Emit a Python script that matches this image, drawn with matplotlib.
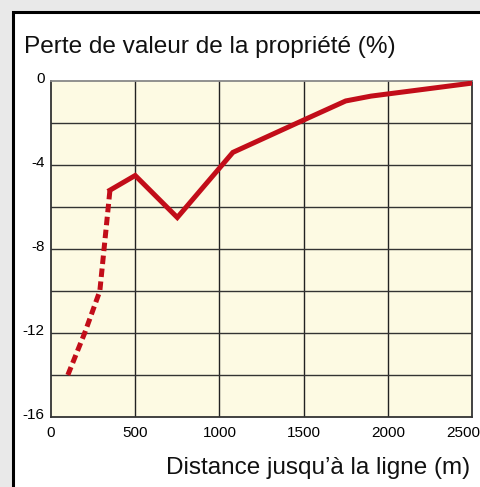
import matplotlib
matplotlib.use("Agg")
import matplotlib.pyplot as plt
from matplotlib.patches import Rectangle
import matplotlib.transforms as mtransforms

# Data
dashed_x = [100, 200, 290, 350]
dashed_y = [-14, -12, -10, -5.2]
solid_x = [350, 500, 750, 1080, 1500, 1750, 1900, 2500]
solid_y = [-5.2, -4.5, -6.5, -3.4, -1.86, -0.95, -0.72, -0.1]
xticks = [0, 500, 1000, 1500, 2000, 2500]
yticks = [0, -4, -8, -12, -16]
title = "Perte de valeur de la propriété (%)"
xlabel = "Distance jusqu’à la ligne (m)"

W, H = 481, 487
plt.rcParams['font.family'] = ['Liberation Sans', 'DejaVu Sans']
fig = plt.figure(figsize=(W / 100, H / 100), dpi=100)
fig.patch.set_facecolor("#e9e9e9")

# white box with black border
box = Rectangle((13 / W, -0.05), 1.1, (H - 12) / H + 0.05, transform=fig.transFigure,
                facecolor="white", edgecolor="black", linewidth=2.2, zorder=-5)
fig.patches.append(box)

ax = fig.add_axes([51 / W, (H - 417) / H, (472 - 51) / W, (417 - 81) / H])
ax.set_zorder(2)
ax.set_facecolor("#FDFAE3")
ax.set_xlim(0, 2500)
ax.set_ylim(-16, 0)

for gx in range(500, 2500, 500):
    ax.axvline(gx, color="#222222", lw=1.0, zorder=1)
for gy in range(-14, 0, 2):
    ax.axhline(gy, color="#333333", lw=1.0, zorder=1)
for s in ax.spines.values():
    s.set_color("#333333")
    s.set_linewidth(1.3)
ax.spines['top'].set_color("#888888")

ax.plot(dashed_x, dashed_y, color="#C20D19", lw=3.6, linestyle=(0, (1.7, 0.9)),
        solid_capstyle="butt", dash_capstyle="butt", zorder=3)
ax.plot(solid_x, solid_y, color="#C20D19", lw=3.6, solid_joinstyle="miter", zorder=3)

ax.set_xticks(xticks)
ax.set_yticks(yticks)
ax.set_xticklabels([str(v) for v in xticks], fontsize=11)
ax.set_yticklabels([str(v) for v in yticks], fontsize=11)
ax.tick_params(length=0)
ax.tick_params(axis='x', pad=6.5)
ax.tick_params(axis='y', pad=4.5)

# shift y tick labels slightly up
for lab in ax.get_yticklabels():
    lab.set_transform(lab.get_transform() + mtransforms.ScaledTranslation(0, 3.5 / 100, fig.dpi_scale_trans))
xl = ax.get_xticklabels()
xl[-1].set_transform(xl[-1].get_transform() + mtransforms.ScaledTranslation(-8.5 / 100, 0, fig.dpi_scale_trans))

fig.text(24 / W, 1 - 47 / H, title, fontsize=17.6, ha="left", va="center", color="#111111")
fig.text(470 / W, 1 - 468 / H, xlabel, fontsize=17.5, ha="right", va="center", color="#111111")

fig.savefig("out.png", dpi=100)
